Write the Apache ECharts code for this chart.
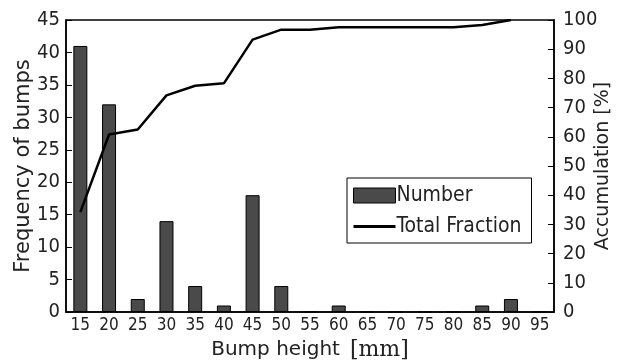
<!DOCTYPE html>
<html><head><meta charset="utf-8">
<script src="https://cdn.jsdelivr.net/npm/echarts@6/dist/echarts.min.js"></script>
<style>html,body{margin:0;padding:0;background:#fff}#c{width:620px;height:360px}</style>
</head><body><div id="c"></div>
<script>
const categories = ['15','20','25','30','35','40','45','50','55','60','65','70','75','80','85','90','95'];
const numberValues = [41,32,2,14,4,1,18,4,0,1,0,0,0,0,1,2,0];
const totalFraction = [34.2,60.8,62.5,74.2,77.5,78.3,93.3,96.7,96.7,97.5,97.5,97.5,97.5,97.5,98.3,100,null];
const leftTicks = {min:0,max:45,interval:5};
const rightTicks = {min:0,max:100,interval:10};

const COND = "'DejaVu Sans Condensed','Liberation Sans Narrow',sans-serif";
const WIDE = "'DejaVu Sans','Liberation Sans',sans-serif";
const TXT = '#222';
const chart = echarts.init(document.getElementById('c'));
chart.setOption({
  animation:false,
  grid:{left:66,right:66,top:20,bottom:48,outerBoundsMode:'none',containLabel:false,
        show:true,borderColor:'#000',borderWidth:1.5,backgroundColor:'transparent'},
  legend:{
    orient:'vertical', left:347, top:178,
    borderColor:'#000', borderWidth:1, padding:[7,10,6,6], itemGap:10,
    itemWidth:42, itemHeight:15,
    textStyle:{fontFamily:COND,fontSize:21,color:TXT,padding:[0,0,0,-4]},
    data:[
      {name:'Number',icon:'rect',itemStyle:{color:'#4a4a4a',borderColor:'#000',borderWidth:1}},
      {name:'Total Fraction',icon:'path://M0,0 L40,0 L40,3 L0,3 Z',itemHeight:3,itemStyle:{color:'#000',borderWidth:0}}
    ]
  },
  xAxis:{
    type:'category', data:categories,
    name:'{a|Bump height}   {b|[mm]}', nameLocation:'middle', nameGap:27, nameMoveOverlap:false,
    nameTextStyle:{color:TXT,rich:{
      a:{fontFamily:WIDE,fontSize:20,color:TXT},
      b:{fontFamily:"'DejaVu Serif','Liberation Serif',serif",fontSize:22,color:TXT}}},
    axisLine:{lineStyle:{color:'#000',width:1.5}},
    axisTick:{inside:true,length:5,lineStyle:{color:'#000'}},
    axisLabel:{fontFamily:COND,fontSize:17,color:TXT,margin:5,interval:0}
  },
  yAxis:[
    {type:'value', min:leftTicks.min, max:leftTicks.max, interval:leftTicks.interval,
     name:'Frequency of bumps', nameLocation:'middle', nameGap:32, nameRotate:90, nameMoveOverlap:false,
     nameTextStyle:{fontFamily:WIDE,fontSize:21,color:TXT},
     axisLine:{show:true,lineStyle:{color:'#000',width:1.5}},
     axisTick:{show:true,inside:true,length:6,lineStyle:{color:'#000'}},
     axisLabel:{fontFamily:COND,fontSize:20,color:TXT,margin:6},
     splitLine:{show:false}},
    {type:'value', min:rightTicks.min, max:rightTicks.max, interval:rightTicks.interval, position:'right',
     name:'Accumulation [%]', nameLocation:'middle', nameGap:40, nameRotate:90, nameMoveOverlap:false,
     nameTextStyle:{fontFamily:WIDE,fontSize:19,color:TXT},
     axisLine:{show:true,lineStyle:{color:'#000',width:1.5}},
     axisTick:{show:true,inside:true,length:6,lineStyle:{color:'#000'}},
     axisLabel:{fontFamily:COND,fontSize:20,color:TXT,margin:9},
     splitLine:{show:false}},
  ],
  series:[
    {name:'Number', type:'bar', data:numberValues, yAxisIndex:0, barWidth:14,
     itemStyle:{color:'#4a4a4a',borderColor:'#000',borderWidth:1}},
    {name:'Total Fraction', type:'line', data:totalFraction, yAxisIndex:1,
     symbol:'none', lineStyle:{color:'#000',width:2.5}, itemStyle:{color:'#000'}}
  ]
});
</script></body></html>
